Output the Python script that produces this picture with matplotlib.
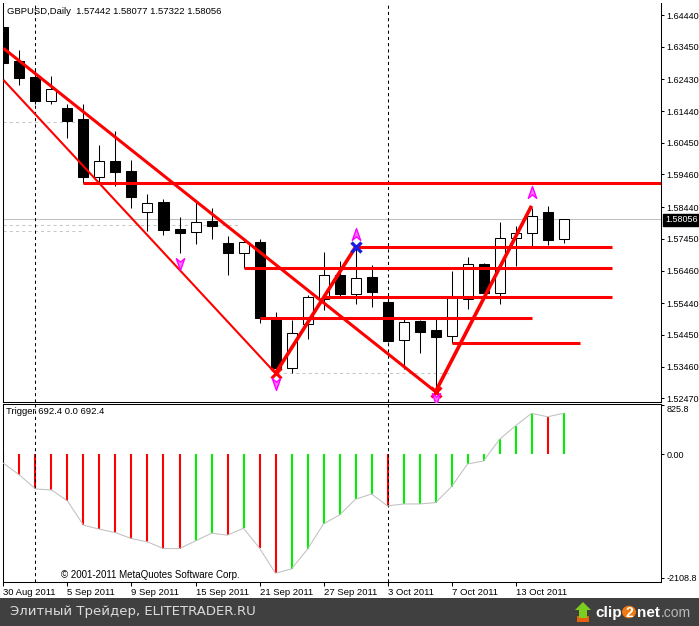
import matplotlib.pyplot as plt
from matplotlib.path import Path
from matplotlib.patches import Rectangle, Circle, Polygon

plt.rcParams['font.family'] = ['Liberation Sans', 'DejaVu Sans']

# GBPUSD daily, 30 Aug 2011 .. 18 Oct 2011 (bar index 0..35)
opens = [1.64075, 1.63003, 1.62513, 1.61764, 1.61526, 1.61183, 1.59371, 1.59880, 1.59568, 1.58297,
         1.58600, 1.57757, 1.57654, 1.58016, 1.57310, 1.56998, 1.57341, 1.54946, 1.53407, 1.54781,
         1.55571, 1.56320, 1.55717, 1.56248, 1.55468, 1.54290, 1.54884, 1.54603, 1.54425, 1.55561,
         1.56654, 1.55749, 1.57466, 1.57622, 1.58278, 1.57442]
highs = [1.64231, 1.63347, 1.62722, 1.62535, 1.61661, 1.61661, 1.60380, 1.60817, 1.59912, 1.58840,
         1.58694, 1.58141, 1.58591, 1.58403, 1.57538, 1.57413, 1.57435, 1.55155, 1.54915, 1.55696,
         1.57048, 1.56757, 1.57190, 1.56632, 1.55602, 1.54968, 1.54915, 1.54968, 1.56454, 1.56892,
         1.56704, 1.57985, 1.57850, 1.58403, 1.58475, 1.58077]
lows = [1.62513, 1.62254, 1.61661, 1.61661, 1.60589, 1.59190, 1.59234, 1.59100, 1.58403, 1.57704,
        1.57569, 1.57017, 1.57279, 1.57435, 1.56320, 1.56545, 1.54831, 1.53250, 1.53269, 1.54312,
        1.55227, 1.55642, 1.55405, 1.55311, 1.54237, 1.53375, 1.53894, 1.52676, 1.54200, 1.55249,
        1.55727, 1.55405, 1.56611, 1.57204, 1.57257, 1.57322]
closes = [1.62950, 1.62482, 1.61764, 1.62120, 1.61139, 1.59390, 1.59880, 1.59546, 1.58765, 1.58559,
          1.57726, 1.57641, 1.57966, 1.57850, 1.56998, 1.57341, 1.54968, 1.53407, 1.54499, 1.55624,
          1.56311, 1.55717, 1.56217, 1.55799, 1.54268, 1.54843, 1.54549, 1.54393, 1.55602, 1.56654,
          1.55749, 1.57466, 1.57622, 1.58163, 1.57413, 1.58056]

trigger = [-158, -357, -595, -612, -799, -1212, -1280, -1338, -1440, -1496,
           -1610, -1610, -1479, -1348, -1382, -1263, -1603, -2030, -1955, -1620,
           -1190, -1037, -770, -680, -884, -850, -850, -828, -556, -170,
           -119, 250, 481, 692, 634, 692.4]
trigger_sign = 'rrrrrrrrrrrrggrgrrggggggrgggggggggrg'

date_bars = [0, 4, 8, 12, 16, 20, 24, 28, 32]
date_labels = ['30 Aug 2011', '5 Sep 2011', '9 Sep 2011', '15 Sep 2011', '21 Sep 2011',
               '27 Sep 2011', '3 Oct 2011', '7 Oct 2011', '13 Oct 2011']
separators = [2, 24]

price_ticks = [1.64440, 1.63450, 1.62430, 1.61440, 1.60450, 1.59460, 1.58440,
               1.57450, 1.56460, 1.55440, 1.54450, 1.53460, 1.52470]
trigger_ticks = [825.8, 0.0, -2108.8]
trigger_tick_labels = ['825.8', '0.00', '-2108.8']

# drawn objects
trend_bars = [[0, 27], [0, 17], [17, 22], [27, 33]]
trend_prices = [[1.63400, 1.52676], [1.62410, 1.53250], [1.53250, 1.57190], [1.52676, 1.58480]]
level_prices = [1.59190, 1.57190, 1.56545, 1.55640, 1.54980, 1.54200]
level_start = [5, 22, 15, 20, 16, 28]
level_end = [42, 38, 38, 38, 33, 36]
dash_prices = [1.61089, 1.57866, 1.57694, 1.53260]
dash_start = [0, 0, 0, 17.1]
dash_end = [4.7, 14.8, 5.0, 28.0]
cross_bars = [17, 27]
cross_prices = [1.53250, 1.52676]
blue_bar, blue_price = 22, 1.57190
up_bars, up_prices = [22, 33], [1.57569, 1.58890]
down_bars, down_prices = [11, 17, 27], [1.56685, 1.52938, 1.52469]

W, H = 699, 626


def rect(x0, y0, x1, y1):
    return [x0 / W, 1 - y1 / H, (x1 - x0) / W, (y1 - y0) / H]


def px(x, y):
    return x / W, 1 - y / H


fig = plt.figure(figsize=(W / 100, H / 100), dpi=100)
ax = fig.add_axes(rect(3, 3, 661, 401.5))
ax2 = fig.add_axes(rect(3, 403.5, 661, 582), sharex=ax)

x = list(range(len(opens)))
ax.set_xlim(-0.03, 41.09)
ax.set_ylim(1.52369, 1.64815)
ax2.set_ylim(-2178.7, 859.6)

# candles
ax.vlines(x, lows, highs, color='black', lw=0.75, zorder=3)
bottoms = [min(o, c) for o, c in zip(opens, closes)]
heights = [max(abs(c - o), 0.00003) for o, c in zip(opens, closes)]
faces = ['white' if c >= o else 'black' for o, c in zip(opens, closes)]
ax.bar(x, heights, bottom=bottoms, width=0.625, color=faces, edgecolor='black', lw=0.75, zorder=4)

# last close line and helper dashed lines
ax.axhline(closes[-1], color='#c0c0c0', lw=0.75, zorder=1)
ax.hlines(dash_prices, dash_start, dash_end, color='#c8c8c8', lw=0.75, ls=(0, (3, 3)), zorder=1)

# trend lines and levels
widths = [2.2, 1.5, 2.6, 2.6]
for bx, py, w in zip(trend_bars, trend_prices, widths):
    ax.plot(bx, py, color='#ff0000', lw=w, zorder=5, solid_capstyle='butt')
ax.hlines(level_prices, level_start, level_end, color='#ff0000', lw=2.2, zorder=5)

ax.plot(cross_bars, cross_prices, ls='none', marker='x', ms=7, mew=2.2, color='#ff0000', zorder=6)
ax.plot([blue_bar], [blue_price], ls='none', marker='x', ms=7, mew=2.4, color='#1c1ce0', zorder=6)

up = Path([(0, 1), (0.6, -0.7), (0, -0.2), (-0.6, -0.7), (0, 1)],
          [Path.MOVETO, Path.LINETO, Path.LINETO, Path.LINETO, Path.CLOSEPOLY])
down = Path([(0, -1), (0.6, 0.7), (0, 0.2), (-0.6, 0.7), (0, -1)],
            [Path.MOVETO, Path.LINETO, Path.LINETO, Path.LINETO, Path.CLOSEPOLY])
ax.plot(up_bars, up_prices, ls='none', marker=up, ms=10, mfc='#ff70ff', mec='#ff00ff', mew=1, zorder=6)
ax.plot(down_bars, down_prices, ls='none', marker=down, ms=10, mfc='#ff70ff', mec='#ff00ff', mew=1, zorder=6)

# indicator window
ax2.vlines(x, 0, trigger, colors=['#00ee00' if s == 'g' else '#ff0000' for s in trigger_sign],
           lw=1.5, zorder=2)
ax2.plot(x, trigger, color='#c0c0c0', lw=0.75, zorder=3)

for a in (ax, ax2):
    for s in separators:
        a.axvline(s, color='black', lw=0.75, ls=(0, (3, 3)), zorder=2)
    for sp in a.spines.values():
        sp.set_linewidth(0.75)
    a.yaxis.tick_right()
    a.tick_params(axis='y', direction='out', length=2.2, width=0.75, pad=1.5, labelsize=6.5)
ax.spines['top'].set_visible(False)

ax.set_yticks(price_ticks)
ax.set_yticklabels(['%.5f' % p for p in price_ticks])
ax.tick_params(axis='x', length=0, labelbottom=False)

ax2.set_yticks(trigger_ticks)
ax2.set_yticklabels(trigger_tick_labels)
ax2.get_yticklabels()[0].set_va('top')
ax2.set_xticks(date_bars)
ax2.set_xticklabels(date_labels)
ax2.tick_params(axis='x', direction='out', length=3, width=0.75, pad=1.5, labelsize=6.8)
for lab in ax2.get_xticklabels():
    lab.set_ha('left')

# texts
fig.text(*px(7, 11), 'GBPUSD,Daily  1.57442 1.58077 1.57322 1.58056', fontsize=6.8, va='center')
fig.text(*px(665, 220), '1.58056', fontsize=6.5, color='white', va='center',
         bbox=dict(facecolor='black', edgecolor='black', pad=1.2))
fig.text(*px(6, 412), 'Trigger 692.4 0.0 692.4', fontsize=6.8, va='center')
fig.text(*px(61, 575), '\u00a9 2001-2011 MetaQuotes Software Corp.', fontsize=7, va='center')

# footer band
fig.patches.append(Rectangle((0, 0), 1, 28 / H, transform=fig.transFigure,
                             facecolor='#404040', edgecolor='none'))
fig.text(*px(10, 612), 'Элитный Трейдер, ELITETRADER.RU', fontsize=9.5, color='#dcdcdc',
         va='center', family='DejaVu Sans')
fig.patches.append(Rectangle(px(577, 622), 12 / W, 6 / H, transform=fig.transFigure,
                             facecolor='#e8600c', edgecolor='none'))
fig.patches.append(Polygon([px(583, 602), px(591, 610), px(587, 610), px(587, 618),
                            px(579, 618), px(579, 610), px(575, 610)],
                           closed=True, transform=fig.transFigure, facecolor='#7ccf1e', edgecolor='none'))
fig.text(*px(595, 613), 'clip', fontsize=11, weight='bold', color='white', va='center')
fig.patches.append(Circle(px(629, 612), 7 / W, transform=fig.transFigure,
                          facecolor='#f07a10', edgecolor='none'))
fig.text(*px(629, 613), '2', fontsize=10, weight='bold', color='white', va='center', ha='center')
fig.text(*px(637, 613), 'net', fontsize=11, weight='bold', color='white', va='center')
fig.text(*px(661, 613), '.com', fontsize=10, color='#b8b8b8', va='center')

fig.savefig('out.png', dpi=100)
